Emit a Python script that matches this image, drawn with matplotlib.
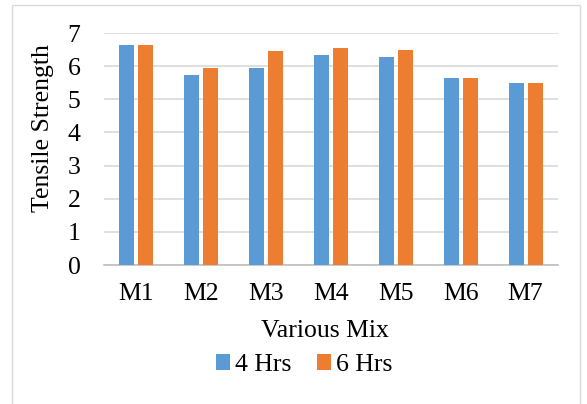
import matplotlib.pyplot as plt
from matplotlib.patches import Rectangle
import numpy as np

mixes = ["M1", "M2", "M3", "M4", "M5", "M6", "M7"]
hrs4 = [6.63, 5.72, 5.94, 6.34, 6.28, 5.63, 5.48]
hrs6 = [6.63, 5.94, 6.45, 6.55, 6.48, 5.63, 5.48]
yticks = [0, 1, 2, 3, 4, 5, 6, 7]

plt.rcParams['font.family'] = ['Liberation Serif', 'DejaVu Serif']
FS = 18.5

fig = plt.figure(figsize=(5.87, 4.04), dpi=100)
W, H = 587, 404
ax = fig.add_axes([104 / W, 1 - 265 / H, 454 / W, 232 / H])

x = np.arange(len(mixes))
bw = 0.233
gap = 0.06
ax.bar(x - (bw + gap) / 2, hrs4, bw, color="#5B9BD5", label="4 Hrs", zorder=3)
ax.bar(x + (bw + gap) / 2, hrs6, bw, color="#ED7D31", label="6 Hrs", zorder=3)

ax.set_xlim(-0.5, len(mixes) - 0.5)
ax.set_ylim(0, 7)
ax.set_yticks(yticks)
ax.set_xticks(x)
ax.set_xticklabels(mixes)
ax.grid(axis="y", color="#D9D9D9", linewidth=1.2, zorder=0)
for s in ["top", "right", "left"]:
    ax.spines[s].set_visible(False)
ax.spines["bottom"].set_color("#BFBFBF")
ax.spines["bottom"].set_linewidth(1.2)
ax.tick_params(axis="both", length=0, labelsize=FS, colors="black")
ax.tick_params(axis="y", pad=17)
ax.tick_params(axis="x", pad=13)

ax.set_xlabel("Various Mix", fontsize=FS, labelpad=11)
ax.xaxis.label.set_x(0.487)
fig.text(43 / W, 1 - 128 / H, "Tensile Strength", rotation=90,
         ha="center", va="center", fontsize=FS)

ax.legend(loc="center", bbox_to_anchor=(304 / W, 1 - 365 / H),
          bbox_transform=fig.transFigure, ncol=2, frameon=False,
          fontsize=FS, handlelength=0.55, handleheight=0.55, handletextpad=0.2,
          columnspacing=1.0, borderpad=0)

# light frame round the whole chart
fig.patches.append(Rectangle((12 / W, -0.01), (580 - 12) / W, 1 - 5 / H + 0.01,
                             transform=fig.transFigure, fill=False,
                             edgecolor="#D9D9D9", linewidth=1))

fig.savefig("out.png", dpi=100)
